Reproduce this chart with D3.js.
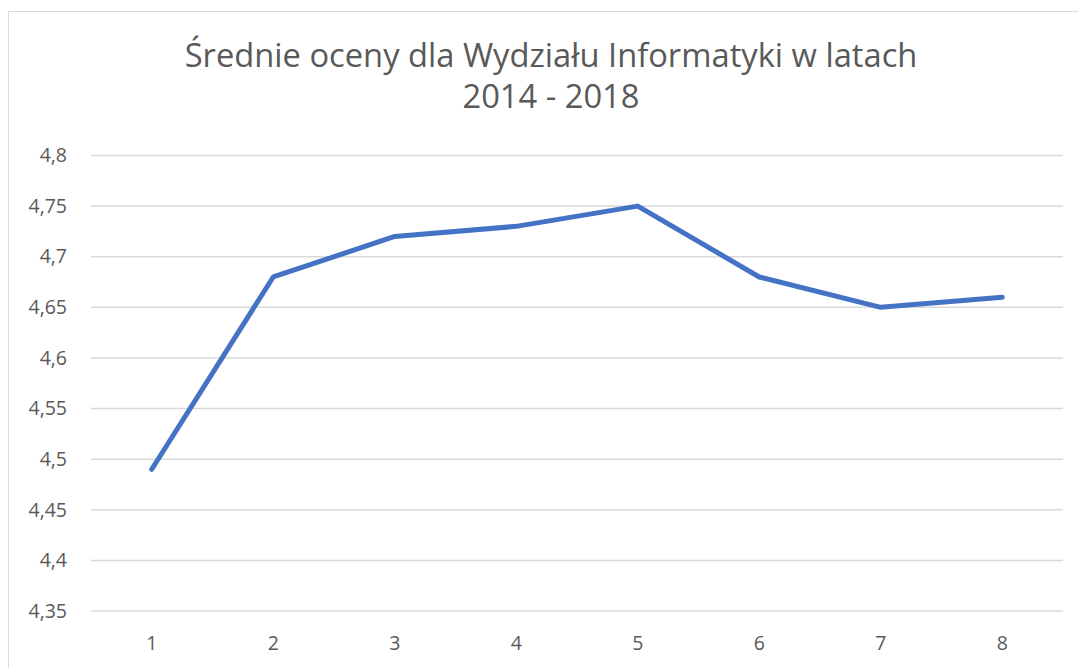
<!DOCTYPE html>
<html>
<head>
<meta charset="utf-8">
<script src="https://cdn.jsdelivr.net/npm/d3@7"></script>
<style>
body { margin: 0; background: #fff; }
text { font-family: "Open Sans", "Noto Sans", sans-serif; fill: #595959; }
</style>
</head>
<body>
<script>
var width = 1078,
    height = 668;

var categories = ["1", "2", "3", "4", "5", "6", "7", "8"];
var values = [4.49, 4.68, 4.72, 4.73, 4.75, 4.68, 4.65, 4.66];
var yTicks = [4.35, 4.4, 4.45, 4.5, 4.55, 4.6, 4.65, 4.7, 4.75, 4.8];
var titleLines = ["Średnie oceny dla Wydziału Informatyki w latach", "2014 - 2018"];

var plot = {left: 91, right: 1063, top: 155.5, bottom: 611};

var svg = d3.select("body").append("svg")
    .attr("width", width)
    .attr("height", height);

// chart frame (cropped on right and bottom)
svg.append("rect")
    .attr("x", 8.5)
    .attr("y", 11.5)
    .attr("width", width + 20)
    .attr("height", height + 20)
    .style("fill", "white")
    .style("stroke", "#d9d9d9")
    .style("stroke-width", 1);

var xscale = d3.scaleBand()
    .domain(categories)
    .range([plot.left, plot.right]);

var yscale = d3.scaleLinear()
    .domain([4.35, 4.8])
    .range([plot.bottom, plot.top]);

// gridlines
svg.append("g")
    .selectAll("line")
    .data(yTicks).enter()
    .append("line")
    .attr("x1", plot.left)
    .attr("x2", plot.right)
    .attr("y1", function(d) { return yscale(d); })
    .attr("y2", function(d) { return yscale(d); })
    .style("stroke", "#d9d9d9")
    .style("stroke-width", 1.5);

var fmt = function(d) { return String(+d.toFixed(2)).replace(".", ","); };

var yAxis = svg.append("g")
    .attr("transform", "translate(" + (plot.left - 24) + ",0)")
    .call(d3.axisLeft(yscale).tickValues(yTicks).tickFormat(fmt).tickSize(0).tickPadding(0));
yAxis.select(".domain").remove();
yAxis.selectAll("text")
    .style("font-size", "19.5px")
    .style("fill", "#595959")
    .style("font-family", "\"Open Sans\", sans-serif");

var xAxis = svg.append("g")
    .attr("transform", "translate(0," + plot.bottom + ")")
    .call(d3.axisBottom(xscale).tickSize(0).tickPadding(25));
xAxis.select(".domain").remove();
xAxis.selectAll("text")
    .style("font-size", "19.5px")
    .style("fill", "#595959")
    .style("font-family", "\"Open Sans\", sans-serif");

var line = d3.line()
    .x(function(d, i) { return xscale(categories[i]) + xscale.bandwidth() / 2; })
    .y(function(d) { return yscale(d); });

svg.append("path")
    .datum(values)
    .attr("d", line)
    .style("fill", "none")
    .style("stroke", "#4472c4")
    .style("stroke-width", 5)
    .style("stroke-linejoin", "round")
    .style("stroke-linecap", "round");

var title = svg.append("g");
title.selectAll("text")
    .data(titleLines).enter()
    .append("text")
    .attr("x", 551)
    .attr("y", function(d, i) { return 67 + i * 41; })
    .attr("text-anchor", "middle")
    .style("font-size", "30px")
    .text(function(d) { return d; });

// fit first title line to the width seen in the reference
var t0 = title.select("text").node();
var w = t0.getComputedTextLength();
var fs = 30 * 733 / w;
title.selectAll("text").style("font-size", fs + "px");
</script>
</body>
</html>
